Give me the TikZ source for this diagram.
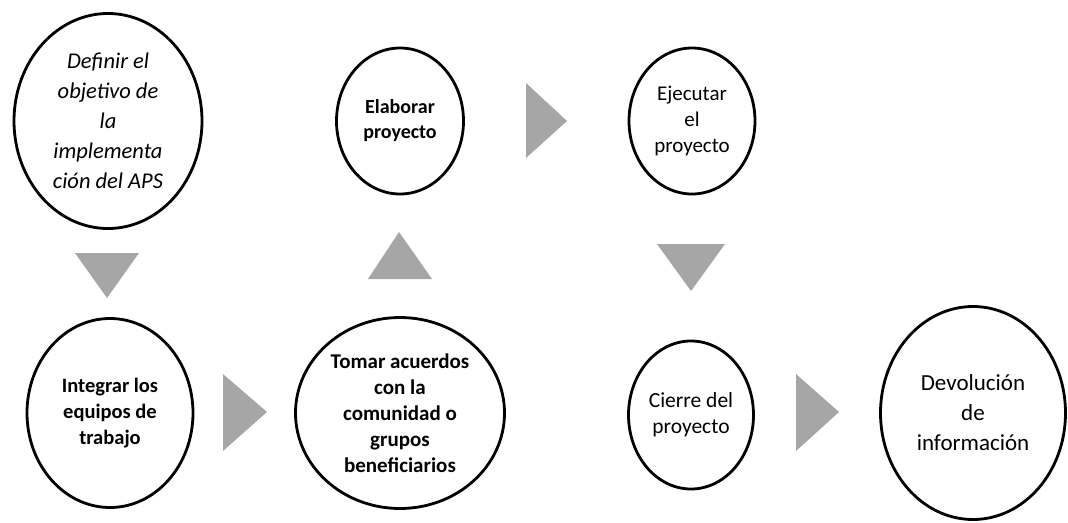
\documentclass[tikz,border=0pt]{standalone}
\usepackage{fontspec}
\setmainfont{Carlito}
\usepackage{tikz}
\usetikzlibrary{shapes.geometric}
\definecolor{arrowgray}{HTML}{A6A6A6}

\tikzset{
  stage/.style={ellipse,draw=black,line width=2.8pt,inner sep=0pt,align=center},
  pointer/.style={fill=arrowgray,draw=none}
}

\begin{document}
\begin{tikzpicture}[x=1pt,y=-1pt]
\useasboundingbox (0,0) rectangle (1068,522);

\node[stage,minimum width=188pt,minimum height=215pt,font=\fontsize{22.5}{30}\selectfont\itshape] (definir) at (108,121) {Definir el\\objetivo de\\la\\implementa\\ción del APS};
\node[stage,minimum width=166pt,minimum height=189pt,font=\fontsize{20.5}{26}\selectfont\bfseries] (integrar) at (110,413) {Integrar los\\equipos de\\trabajo};
\node[stage,minimum width=209pt,minimum height=191pt,font=\fontsize{21}{26}\selectfont\bfseries] (tomar) at (400,413) {Tomar acuerdos\\con la\\comunidad o\\grupos\\beneficiarios};
\node[stage,minimum width=127pt,minimum height=146pt,font=\fontsize{20}{25}\selectfont\bfseries] (elaborar) at (400,121) {Elaborar\\proyecto};
\node[stage,minimum width=126pt,minimum height=146pt,font=\fontsize{21}{26}\selectfont] (ejecutar) at (692,121) {Ejecutar\\el\\proyecto};
\node[stage,minimum width=125pt,minimum height=148pt,font=\fontsize{21.5}{26.5}\selectfont] (cierre) at (691,415) {Cierre del\\proyecto};
\node[stage,minimum width=185pt,minimum height=213pt,font=\fontsize{23}{30}\selectfont] (devolucion) at (973,413) {Devolución\\de\\información};

\fill[pointer] (75,253) -- (139,253) -- (107,298) -- cycle;
\fill[pointer] (223,374) -- (223,451) -- (267,412) -- cycle;
\fill[pointer] (368,279) -- (432,279) -- (399,232) -- cycle;
\fill[pointer] (526,83) -- (526,158) -- (567,121) -- cycle;
\fill[pointer] (657,244) -- (725,244) -- (691,291) -- cycle;
\fill[pointer] (796,374) -- (796,451) -- (839,412) -- cycle;
\end{tikzpicture}
\end{document}
